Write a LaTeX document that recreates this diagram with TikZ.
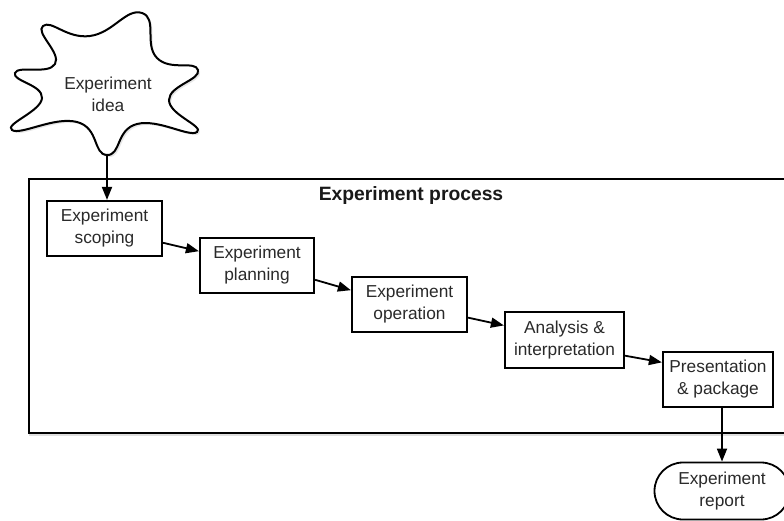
\documentclass[tikz,border=0pt]{standalone}
\usepackage{fontspec}
\setmainfont{Liberation Sans}
\usetikzlibrary{arrows.meta,calc,shapes.misc,shadows}
\definecolor{txt}{HTML}{2A2A2A}
\begin{document}
\begin{tikzpicture}[x=1pt,y=-1pt,
  stepbox/.style={draw=black,line width=2.2pt,fill=white,text=txt,align=center,
    inner sep=0pt,font=\fontsize{17.3}{22}\selectfont},
  arr/.style={line width=1.8pt,-{Triangle[length=13pt,width=10pt]}},
]
\useasboundingbox (0,0) rectangle (784,521);
\clip (0,0) rectangle (784,521);
% outer process box
\draw[line width=2.8pt,fill=white,drop shadow={opacity=0.25,shadow xshift=0pt,shadow yshift=-3pt}]
  (29,179) rectangle (820,433);
\node[font=\bfseries\fontsize{19.3}{23}\selectfont,text=black!90] (title) at (411,196) {Experiment process};
% cloud
\draw[line width=2pt,fill=white,drop shadow={opacity=0.2,shadow xshift=2pt,shadow yshift=-2pt}]
  plot[smooth cycle,tension=0.85] coordinates {
  (107,155) (77,122) (12,130) (42,98) (15,73) (55,64) (43,26) (90,36)
  (142,13) (157,58) (198,70) (169,100) (197,132) (137,124)};
\coordinate (tip) at (107,155);
\node[text=txt,align=center,font=\fontsize{17.3}{22}\selectfont] (idea) at (108,94) {Experiment\\idea};
% steps
\node[stepbox,minimum width=115pt,minimum height=55pt] (scoping) at (104.5,228.5) {Experiment\\scoping};
\node[stepbox,minimum width=114pt,minimum height=55pt] (planning) at (257,265.5) {Experiment\\planning};
\node[stepbox,minimum width=115pt,minimum height=55pt] (operation) at (409.5,304.5) {Experiment\\operation};
\node[stepbox,minimum width=119pt,minimum height=56pt] (analysis) at (564.5,340) {Analysis \&\\interpretation};
\node[stepbox,minimum width=110pt,minimum height=55pt] (present) at (718,379.5) {Presentation\\\& package};
\node[stepbox,rounded rectangle,line width=1.8pt,minimum width=135pt,minimum height=57pt] (report) at (722,491) {Experiment\\report};
% connectors
\draw[arr] (tip) -- (scoping.north -| tip);
\draw[arr] ($(scoping.south east)!0.25!(scoping.north east)$) -- ($(planning.north west)!0.25!(planning.south west)$);
\draw[arr] ($(planning.south east)!0.25!(planning.north east)$) -- ($(operation.north west)!0.25!(operation.south west)$);
\draw[arr] ($(operation.south east)!0.27!(operation.north east)$) -- ($(analysis.north west)!0.25!(analysis.south west)$);
\draw[arr] ($(analysis.south east)!0.23!(analysis.north east)$) -- ($(present.north west)!0.2!(present.south west)$);
\draw[arr] (report.north |- present.south) -- (report.north);
\end{tikzpicture}
\end{document}
